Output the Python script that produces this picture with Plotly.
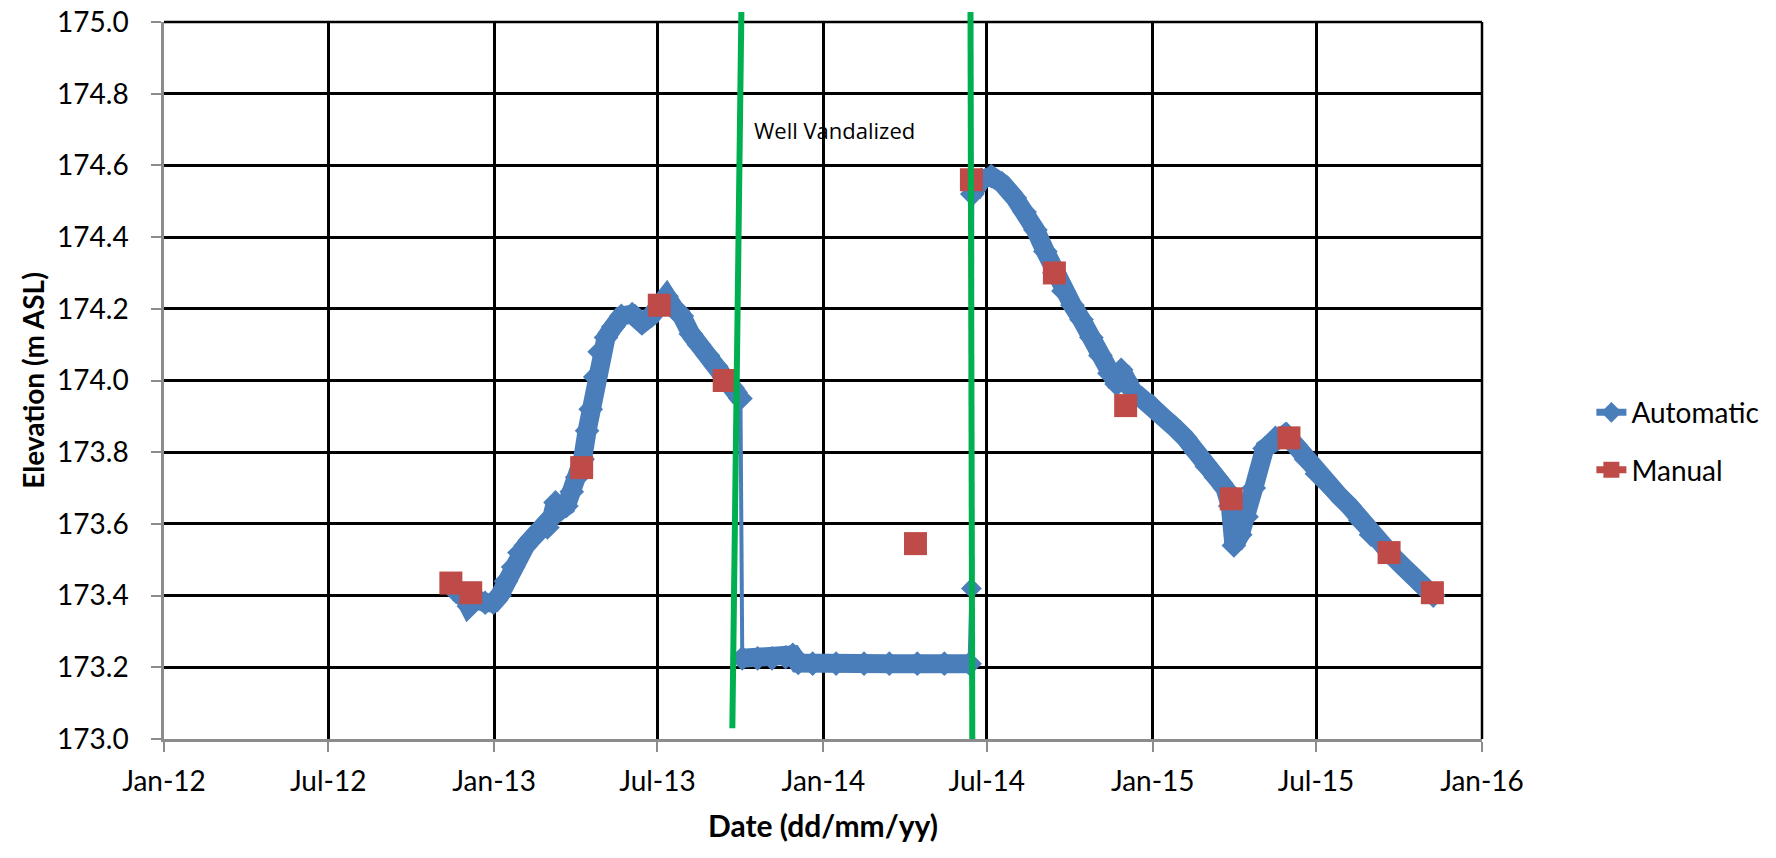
import plotly.graph_objects as go

# ---------------- data ----------------
# Automatic logger record, segment before vandalism
auto_a_dates = ["2012-11-20", "2012-11-28", "2012-12-04", "2012-12-12", "2012-12-22", "2012-12-31",
                "2013-01-07", "2013-01-14", "2013-01-22", "2013-01-29", "2013-02-05", "2013-02-12",
                "2013-02-20", "2013-03-01", "2013-03-06", "2013-03-10", "2013-03-16", "2013-03-22",
                "2013-03-28", "2013-04-03", "2013-04-09", "2013-04-14", "2013-04-18", "2013-04-23",
                "2013-04-28", "2013-05-05", "2013-05-13", "2013-05-22", "2013-06-03", "2013-06-14",
                "2013-06-24", "2013-07-04", "2013-07-11", "2013-07-20", "2013-07-28", "2013-08-07",
                "2013-08-16", "2013-08-26", "2013-09-04", "2013-09-13", "2013-09-22", "2013-10-01"]
auto_a_vals = [173.41, 173.40, 173.37, 173.39, 173.38, 173.38,
               173.40, 173.44, 173.48, 173.52, 173.54, 173.56,
               173.58, 173.59, 173.62, 173.66, 173.64, 173.65,
               173.69, 173.73, 173.78, 173.86, 173.92, 174.01,
               174.08, 174.12, 174.15, 174.18, 174.185, 174.16,
               174.18, 174.21, 174.235, 174.20, 174.18, 174.13,
               174.10, 174.07, 174.04, 174.01, 173.98, 173.95]

# Automatic record while the well was vandalized
auto_b_dates = ["2013-10-03", "2013-10-20", "2013-11-05", "2013-11-20", "2013-11-28", "2013-12-04",
                "2013-12-20", "2014-01-15", "2014-02-15", "2014-03-15", "2014-04-15", "2014-05-15",
                "2014-06-12"]
auto_b_vals = [173.225, 173.225, 173.225, 173.228, 173.235, 173.212,
               173.21, 173.21, 173.21, 173.21, 173.21, 173.21,
               173.21]

# isolated reading on the repair date
auto_mid_date = ["2014-06-14"]
auto_mid_val = [173.42]

# Automatic record after repair
auto_c_dates = ["2014-06-15", "2014-06-25", "2014-07-06", "2014-07-18", "2014-08-01", "2014-08-12",
                "2014-08-24", "2014-09-04", "2014-09-14", "2014-09-24", "2014-10-04", "2014-10-14",
                "2014-10-25", "2014-11-04", "2014-11-14", "2014-11-22", "2014-11-27", "2014-12-03",
                "2014-12-10", "2014-12-20", "2014-12-31", "2015-01-12", "2015-01-25", "2015-02-06",
                "2015-02-18", "2015-03-02", "2015-03-12", "2015-03-22", "2015-03-28", "2015-04-01",
                "2015-04-08", "2015-04-15", "2015-04-23", "2015-05-05", "2015-05-17", "2015-05-28",
                "2015-06-08", "2015-06-20", "2015-07-02", "2015-07-14", "2015-07-26", "2015-08-07",
                "2015-08-19", "2015-08-31", "2015-09-12", "2015-09-24", "2015-10-06", "2015-10-18",
                "2015-10-30", "2015-11-08"]
auto_c_vals = [174.52, 174.56, 174.57, 174.55, 174.51, 174.47,
               174.42, 174.36, 174.30, 174.25, 174.21, 174.17,
               174.12, 174.07, 174.02, 173.99, 174.03, 174.00,
               173.97, 173.95, 173.93, 173.90, 173.87, 173.84,
               173.80, 173.76, 173.73, 173.70, 173.65, 173.54,
               173.57, 173.62, 173.70, 173.81, 173.84, 173.85,
               173.82, 173.78, 173.74, 173.71, 173.68, 173.65,
               173.61, 173.57, 173.545, 173.51, 173.48, 173.45,
               173.42, 173.40]

# Manual readings
manual_dates = ["2012-11-14", "2012-12-06", "2013-04-08", "2013-07-03", "2013-09-13", "2014-04-13",
                "2014-06-14", "2014-09-14", "2014-12-02", "2015-03-29", "2015-06-01", "2015-09-20",
                "2015-11-07"]
manual_vals = [173.435, 173.408, 173.757, 174.21, 174.00, 173.545,
               174.56, 174.30, 173.93, 173.67, 173.84, 173.52,
               173.408]

# vandalism marker lines (bottom date, top date, bottom value, top value)
vand_bottom_dates = ["2013-09-22", "2014-06-15"]
vand_top_dates = ["2013-10-02", "2014-06-13"]
vand_bottom_vals = [173.03, 173.0]
vand_top_vals = [175.028, 175.028]
vand_label = "Well Vandalized"
vand_label_date = "2013-10-14"
vand_label_val = 174.70

x_tick_vals = ["2012-01-01", "2012-07-01", "2013-01-01", "2013-07-01", "2014-01-01",
               "2014-07-01", "2015-01-01", "2015-07-01", "2016-01-01"]
x_tick_text = ["Jan-12", "Jul-12", "Jan-13", "Jul-13", "Jan-14", "Jul-14", "Jan-15", "Jul-15", "Jan-16"]
y_tick_vals = [173.0, 173.2, 173.4, 173.6, 173.8, 174.0, 174.2, 174.4, 174.6, 174.8, 175.0]
y_tick_text = ["%.1f" % v for v in y_tick_vals]

Y_MIN, Y_MAX = 173.0, 175.0

BLUE = "#4A7EBB"
RED = "#BE4B48"
GREEN = "#00B050"
FONT = "Lato"

fig = go.Figure()

# thin connecting line across the jumps
conn_x = [auto_a_dates[-1], auto_b_dates[0], None, auto_b_dates[-1], auto_mid_date[0], auto_c_dates[0]]
conn_y = [auto_a_vals[-1], auto_b_vals[0], None, auto_b_vals[-1], auto_mid_val[0], auto_c_vals[0]]
fig.add_trace(go.Scatter(x=conn_x, y=conn_y, mode="lines+markers",
                         line=dict(color=BLUE, width=4),
                         marker=dict(symbol="diamond", size=16, color=BLUE),
                         showlegend=False, hoverinfo="skip"))

auto_x = auto_a_dates + [None] + auto_b_dates + [None] + auto_c_dates
auto_y = auto_a_vals + [None] + auto_b_vals + [None] + auto_c_vals
fig.add_trace(go.Scatter(x=auto_x, y=auto_y, mode="lines+markers", name="Automatic",
                         line=dict(color=BLUE, width=19),
                         marker=dict(symbol="diamond", size=19, color=BLUE),
                         connectgaps=False, showlegend=False))

fig.add_trace(go.Scatter(x=manual_dates, y=manual_vals, mode="markers", name="Manual",
                         marker=dict(symbol="square", size=23, color=RED),
                         showlegend=False))

# legend entries
fig.add_trace(go.Scatter(x=[None], y=[None], mode="lines+markers", name="Automatic",
                         line=dict(color=BLUE, width=7),
                         marker=dict(symbol="diamond", size=16, color=BLUE),
                         legendgroup="a"))
fig.add_trace(go.Scatter(x=[None], y=[None], mode="lines+markers", name="Manual",
                         line=dict(color=RED, width=7),
                         marker=dict(symbol="square", size=16, color=RED),
                         legendgroup="b"))

def to_paper(v):
    return (v - Y_MIN) / (Y_MAX - Y_MIN)

shapes = []
for xb, xt, yb, yt in zip(vand_bottom_dates, vand_top_dates, vand_bottom_vals, vand_top_vals):
    shapes.append(dict(type="line", xref="x", yref="paper", x0=xb, x1=xt,
                       y0=to_paper(yb), y1=to_paper(yt),
                       line=dict(color=GREEN, width=6), layer="above"))
# black top / right frame (gridlines at the range ends)
shapes.append(dict(type="line", xref="paper", yref="paper", x0=0, x1=1, y0=1, y1=1,
                   line=dict(color="black", width=2.5), layer="below"))
shapes.append(dict(type="line", xref="paper", yref="paper", x0=1, x1=1, y0=0, y1=1,
                   line=dict(color="black", width=2.5), layer="below"))

fig.update_layout(
    width=1776, height=858, autosize=False,
    margin=dict(l=164, r=292, t=22, b=119),
    paper_bgcolor="white", plot_bgcolor="white",
    font=dict(family=FONT, size=28, color="black"),
    shapes=shapes,
    annotations=[dict(x=vand_label_date, y=vand_label_val, xref="x", yref="y",
                      text=vand_label, showarrow=False, xanchor="left", yanchor="middle",
                      font=dict(family="Open Sans", size=22, color="black"))],
    legend=dict(x=1.083, y=0.49, xanchor="left", yanchor="top",
                font=dict(family=FONT, size=28, color="black"),
                traceorder="grouped", tracegroupgap=18, itemsizing="trace",
                bgcolor="rgba(0,0,0,0)"),
    xaxis=dict(type="date", range=["2012-01-01", "2016-01-01"], automargin=False,
               tickmode="array", tickvals=x_tick_vals, ticktext=x_tick_text,
               showgrid=True, gridcolor="black", gridwidth=2.5,
               showline=True, linecolor="#8C8C8C", linewidth=2.5,
               ticks="outside", ticklen=10, tickwidth=2, tickcolor="#8C8C8C",
               ticklabelstandoff=6, ticklabeloverflow="allow",
               tickfont=dict(family=FONT, size=28),
               title=dict(text="<b>Date (dd/mm/yy)</b>", font=dict(family=FONT, size=30), standoff=20),
               zeroline=False),
    yaxis=dict(range=[Y_MIN, Y_MAX], automargin=False,
               tickmode="array", tickvals=y_tick_vals, ticktext=y_tick_text,
               showgrid=True, gridcolor="black", gridwidth=2.5,
               showline=True, linecolor="#8C8C8C", linewidth=2.5,
               ticks="outside", ticklen=10, tickwidth=2, tickcolor="#8C8C8C",
               ticklabelstandoff=17, ticklabeloverflow="allow",
               tickfont=dict(family=FONT, size=28),
               title=dict(text="<b>Elevation (m ASL)</b>", font=dict(family=FONT, size=28), standoff=5),
               zeroline=False),
)

fig.write_html("out.html", config={"displayModeBar": False},
               post_script="document.body.style.margin='0';")
